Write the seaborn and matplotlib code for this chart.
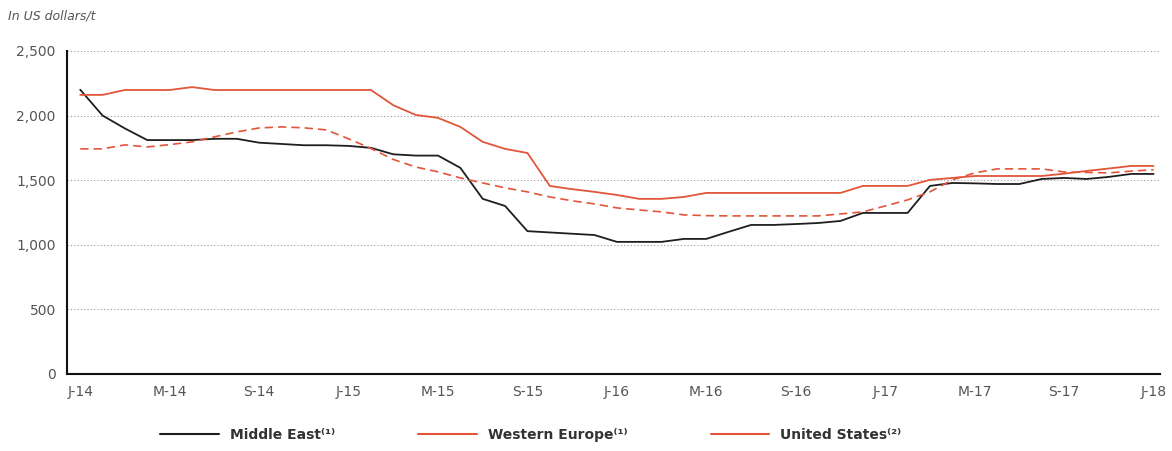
import pandas as pd
import matplotlib.pyplot as plt
import seaborn as sns
from matplotlib.lines import Line2D

# ---------- dados (mensais de J-14 a J-18) ---------- #
months = list(range(49))
tick_labels = ["J-14", "M-14", "S-14", "J-15", "M-15", "S-15", "J-16",
               "M-16", "S-16", "J-17", "M-17", "S-17", "J-18"]

middle_east = [2200, 2000, 1900, 1810, 1810, 1810, 1820, 1820, 1790, 1780,
               1770, 1770, 1765, 1750, 1700, 1690, 1690, 1595, 1355, 1300,
               1105, 1095, 1085, 1075, 1022, 1022, 1022, 1045, 1045, 1100,
               1153, 1153, 1160, 1168, 1184, 1246, 1246, 1246, 1455, 1478,
               1475, 1470, 1470, 1509, 1517, 1509, 1525, 1548, 1548]

western_europe = [2160, 2160, 2198, 2198, 2198, 2220, 2198, 2198, 2198, 2198,
                  2198, 2198, 2198, 2198, 2080, 2005, 1982, 1912, 1796, 1742,
                  1710, 1455, 1430, 1409, 1385, 1355, 1355, 1370, 1401, 1401,
                  1401, 1401, 1401, 1401, 1401, 1455, 1455, 1455, 1502, 1517,
                  1532, 1532, 1532, 1532, 1550, 1571, 1590, 1610, 1610]

united_states = [1742, 1742, 1773, 1757, 1775, 1796, 1835, 1873, 1904, 1912,
                 1905, 1889, 1820, 1745, 1660, 1602, 1564, 1517, 1478, 1440,
                 1409, 1370, 1340, 1316, 1285, 1269, 1254, 1231, 1225, 1223,
                 1223, 1223, 1223, 1223, 1238, 1254, 1300, 1347, 1409, 1502,
                 1556, 1587, 1587, 1587, 1563, 1560, 1556, 1570, 1580]

df = pd.DataFrame({"month": months, "me": middle_east,
                   "we": western_europe, "us": united_states})

BLACK = "#1e1e1e"
RED = "#e2553a"
GREY = "#555555"

sns.set_style("white")
plt.rcParams["font.family"] = ["DejaVu Sans"]

fig = plt.figure(figsize=(11.72, 4.51), dpi=100)
ax = fig.add_axes([0.057, 0.171, 0.933, 0.716])

sns.lineplot(data=df, x="month", y="me", color=BLACK, linewidth=1.3, ax=ax)
sns.lineplot(data=df, x="month", y="we", color=RED, linewidth=1.3, ax=ax)
sns.lineplot(data=df, x="month", y="us", color=RED, linewidth=1.2,
             linestyle=(0, (5, 3)), ax=ax)

ax.set_xlim(-0.6, 48.3)
ax.set_ylim(0, 2500)
ax.set_xticks(range(0, 49, 4))
ax.set_xticklabels(tick_labels)
ax.set_yticks(range(0, 2501, 500))
ax.set_yticklabels([f"{v:,}" for v in range(0, 2501, 500)])
ax.set_xlabel("")
ax.set_ylabel("")
ax.tick_params(axis="both", length=0, labelsize=10, colors=GREY, pad=8)

# grelha pontilhada (sem a linha do zero)
for v in range(500, 2501, 500):
    ax.axhline(v, color="#999999", linestyle=(0, (1, 2)), linewidth=0.8, zorder=0)

for s in ["top", "right"]:
    ax.spines[s].set_visible(False)
for s in ["left", "bottom"]:
    ax.spines[s].set_color("#111111")
    ax.spines[s].set_linewidth(1.5)

fig.text(0.007, 0.965, "In US dollars/t", fontsize=9, style="italic",
         color=GREY, va="center", ha="left")

handles = [Line2D([], [], color=BLACK, linewidth=1.5),
           Line2D([], [], color=RED, linewidth=1.5),
           Line2D([], [], color=RED, linewidth=1.5)]
labels = ["Middle East⁽¹⁾", "Western Europe⁽¹⁾", "United States⁽²⁾"]
fig.legend(handles, labels, loc="center", bbox_to_anchor=(0.453, 0.035),
           ncol=3, frameon=False, handlelength=4.2, columnspacing=6,
           prop={"weight": "bold", "size": 10},
           labelcolor="#333333")

fig.savefig("out.png", dpi=100)
